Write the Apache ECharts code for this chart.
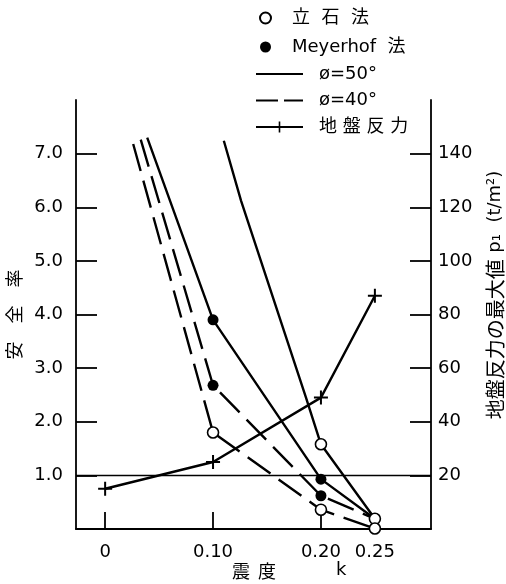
<!DOCTYPE html>
<html>
<head>
<meta charset="utf-8">
<script src="https://cdn.jsdelivr.net/npm/echarts@6/dist/echarts.min.js"></script>
<style>
  html, body { margin: 0; padding: 0; background: #fff; }
  #chart { width: 506px; height: 584px; }
</style>
</head>
<body>
<div id="chart"></div>
<script>
// 震度 k の目盛
const kTicks = [0, 0.10, 0.20];
const kLabels = [0, 0.10, 0.20, 0.25];
// 安全率 目盛
const safetyTicks = [1, 2, 3, 4, 5, 6, 7];
// 地盤反力 目盛
const pressureTicks = [20, 40, 60, 80, 100, 120, 140];

// 安全率の曲線 [k, 安全率]
const tate50 = [[0.110, 7.24], [0.126, 6.12], [0.186, 2.46], [0.20, 1.58], [0.25, 0.19]];
const meyer50 = [[0.039, 7.30], [0.10, 3.90], [0.20, 0.93], [0.25, 0.19]];
const meyer40 = [[0.033, 7.26], [0.10, 2.68], [0.20, 0.62], [0.25, 0.19]];
const tate40 = [[0.026, 7.18], [0.10, 1.80], [0.20, 0.36], [0.25, 0.01]];

// 計算点
const tateMarks = [[0.10, 1.80], [0.20, 1.58], [0.20, 0.36], [0.25, 0.19], [0.25, 0.01]];
const meyerMarks = [[0.10, 3.90], [0.10, 2.68], [0.20, 0.93], [0.20, 0.62]];

// 地盤反力の最大値 p1 (t/m2)
const reaction = [[0, 15], [0.10, 25], [0.20, 49], [0.25, 87]];

const FONT = 'DejaVu Sans, Noto Sans CJK JP, sans-serif';
const CJK = 'Noto Sans CJK JP, sans-serif';
const CROSS = 'path://M0,6H14V8H0Z M6,0H8V14H6Z';
const DASH = [28, 10];
const LW = 2.4;

var chart = echarts.init(document.getElementById('chart'));

function curve(name, data, dashed) {
    return {
        name: name,
        type: 'line',
        data: data,
        symbol: 'none',
        lineStyle: { color: '#000', width: LW, type: dashed ? DASH : 'solid' },
        itemStyle: { color: '#000' },
        z: 2
    };
}

var option = {
    animation: false,
    backgroundColor: '#fff',
    grid: { left: 76, right: 75, top: 100, bottom: 55, containLabel: false, outerBoundsMode: 'none' },
    legend: [
        {
            orient: 'vertical',
            left: 259,
            top: 9,
            padding: 0,
            itemWidth: 11,
            itemHeight: 11,
            itemGap: 11,
            textStyle: { fontFamily: FONT, fontSize: 18, color: '#000', padding: [0, 0, 0, 16] },
            data: ['立  石  法', 'Meyerhof  法']
        },
        {
            orient: 'vertical',
            left: 255,
            top: 65,
            padding: 0,
            itemWidth: 47,
            itemHeight: 14,
            itemGap: 8.5,
            textStyle: { fontFamily: FONT, fontSize: 18, color: '#000', padding: [0, 0, 0, 11] },
            data: [
                { name: 'ø=50°', itemStyle: { opacity: 0 } },
                { name: 'ø=40°', itemStyle: { opacity: 0 }, lineStyle: { type: [22, 6] } },
                '地 盤 反 力'
            ]
        }
    ],
    xAxis: {
        type: 'value',
        min: -0.027,
        max: 0.302,
        axisLine: { onZero: false, lineStyle: { color: '#000', width: 1.8 } },
        axisTick: { inside: true, length: 17, customValues: kTicks, lineStyle: { color: '#000', width: 1.8 } },
        axisLabel: {
            customValues: kLabels,
            margin: 14,
            color: '#000',
            fontFamily: FONT,
            fontSize: 18,
            formatter: function (v) { return v === 0 ? '0' : v.toFixed(2); }
        },
        splitLine: { show: false }
    },
    yAxis: [
        {
            type: 'value',
            min: 0,
            max: 8,
            name: '安　全　率',
            nameLocation: 'middle',
            nameRotate: 90,
            nameGap: 52,
            nameTextStyle: { fontFamily: CJK, fontSize: 18, color: '#000' },
            axisLine: { show: true, onZero: false, lineStyle: { color: '#000', width: 1.8 } },
            axisTick: { inside: true, length: 21, customValues: safetyTicks, lineStyle: { color: '#000', width: 1.8 } },
            axisLabel: {
                customValues: safetyTicks,
                margin: 13,
                color: '#000',
                fontFamily: FONT,
                fontSize: 18,
                formatter: function (v) { return v.toFixed(1); }
            },
            splitLine: { show: false }
        },
        {
            type: 'value',
            position: 'right',
            min: 0,
            max: 160,
            axisLine: { show: true, onZero: false, lineStyle: { color: '#000', width: 1.8 } },
            axisTick: { inside: true, length: 21, customValues: pressureTicks, lineStyle: { color: '#000', width: 1.8 } },
            axisLabel: {
                customValues: pressureTicks,
                margin: 7,
                color: '#000',
                fontFamily: FONT,
                fontSize: 18
            },
            splitLine: { show: false }
        }
    ],
    graphic: [
        {
            type: 'text',
            left: 232,
            top: 562,
            style: { text: '震  度', font: '18px ' + CJK, fill: '#000' }
        },
        {
            type: 'text',
            left: 336,
            top: 561,
            style: { text: 'k', font: '18px ' + FONT, fill: '#000' }
        },
        {
            type: 'text',
            x: 495,
            y: 295,
            rotation: Math.PI / 2,
            style: {
                text: '{c|地盤反力の最大値}  {l|p₁  (t/m²)}',
                align: 'center',
                verticalAlign: 'middle',
                fill: '#000',
                rich: {
                    c: { fontFamily: CJK, fontSize: 20, fill: '#000' },
                    l: { fontFamily: FONT, fontSize: 18, fill: '#000' }
                }
            }
        }
    ],
    series: [
        curve('ø=50°', tate50, false),
        curve('ø=50°', meyer50, false),
        curve('ø=40°', meyer40, true),
        curve('ø=40°', tate40, true),
        {
            name: '地 盤 反 力',
            type: 'line',
            yAxisIndex: 1,
            data: reaction,
            symbol: CROSS,
            symbolSize: 14,
            lineStyle: { color: '#000', width: LW },
            itemStyle: { color: '#000' },
            z: 2
        },
        {
            name: '立  石  法',
            type: 'scatter',
            data: tateMarks,
            symbol: 'circle',
            symbolSize: 11,
            itemStyle: { color: '#fff', borderColor: '#000', borderWidth: 1.6, opacity: 1 },
            z: 4,
            markLine: {
                silent: true,
                symbol: 'none',
                label: { show: false },
                lineStyle: { color: '#000', type: 'solid', width: 1.4 },
                data: [{ yAxis: 1 }]
            }
        },
        {
            name: 'Meyerhof  法',
            type: 'scatter',
            data: meyerMarks,
            symbol: 'circle',
            symbolSize: 11,
            itemStyle: { color: '#000', opacity: 1 },
            z: 4
        }
    ]
};

chart.setOption(option);
</script>
</body>
</html>
